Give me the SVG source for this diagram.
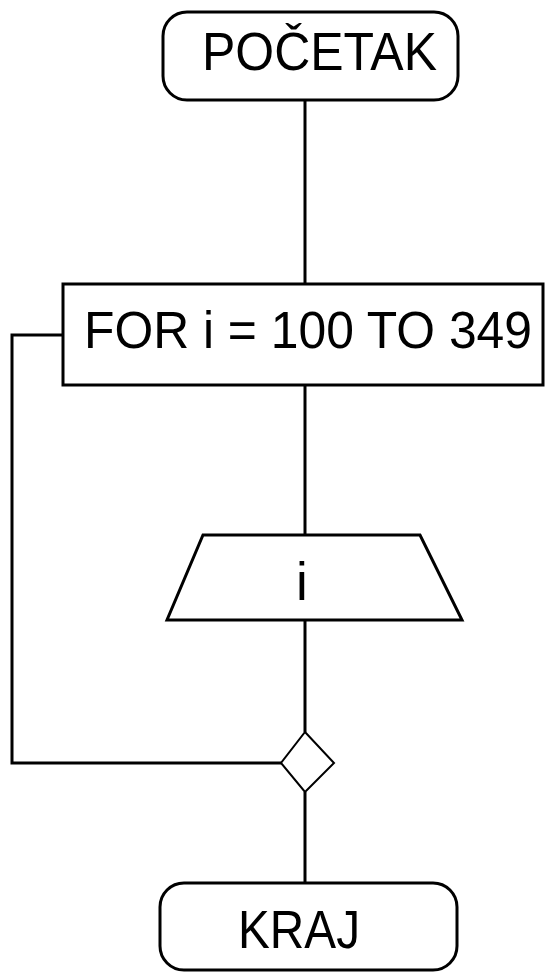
<svg xmlns="http://www.w3.org/2000/svg" width="546" height="974" viewBox="0 0 546 974">
<style>
.shape{fill:#fff;stroke:#000;stroke-width:3}
.thin{fill:#fff;stroke:#000;stroke-width:2}
.conn{fill:none;stroke:#000;stroke-width:3}
text{font-family:"Liberation Sans",Arial,sans-serif;font-size:53px;fill:#000}
.fit{font-size:51px}
</style>
<rect width="546" height="974" fill="#fff"/>
<g id="connectors">
<line class="conn" x1="305" y1="100" x2="305" y2="284"/>
<line class="conn" x1="305" y1="385" x2="305" y2="535"/>
<line class="conn" x1="305" y1="620" x2="305" y2="732"/>
<line class="conn" x1="305" y1="792" x2="305" y2="883"/>
<polyline class="conn" points="281,763 12,763 12,335 63,335"/>
</g>
<g id="start">
<rect class="shape" x="163" y="12" width="295" height="88" rx="24" ry="24"/>
<text x="202" y="70" textLength="235" lengthAdjust="spacingAndGlyphs">POČETAK</text>
</g>
<g id="loop">
<rect class="shape" x="63" y="284" width="480" height="101"/>
<text class="fit" x="84" y="348" textLength="448" lengthAdjust="spacingAndGlyphs">FOR i = 100 TO 349</text>
</g>
<g id="output">
<polygon class="shape" points="203,535 420,535 462,620 167,620"/>
<text x="302" y="600" text-anchor="middle">i</text>
</g>
<g id="loopend">
<polygon class="thin" points="305,732 334,763 305,792 281,763"/>
</g>
<g id="end">
<rect class="shape" x="160" y="883" width="297" height="87" rx="24" ry="24"/>
<text x="238" y="948" textLength="122" lengthAdjust="spacingAndGlyphs">KRAJ</text>
</g>
</svg>
